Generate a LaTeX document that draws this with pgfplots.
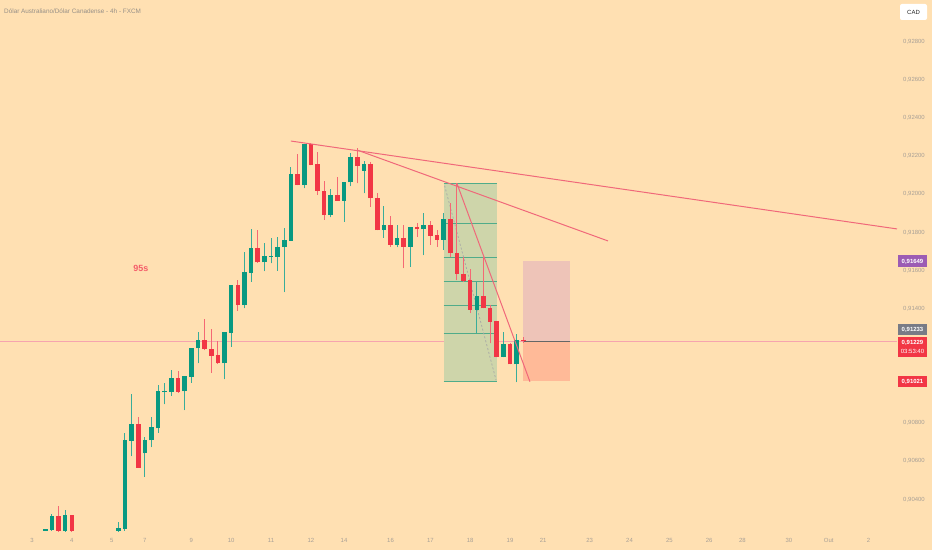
\documentclass[border=0pt]{standalone}
\usepackage{fontspec}
\setmainfont{Liberation Sans}
\usepackage{pgfplots}
\pgfplotsset{compat=1.18}
\usepackage{pgfplotstable}
\definecolor{bg}{RGB}{255,224,178}
\definecolor{tvgreen}{RGB}{8,153,129}
\definecolor{tvred}{RGB}{242,54,69}
\definecolor{lbl}{RGB}{168,160,150}
\definecolor{pinkline}{RGB}{240,104,122}
\definecolor{boxgreen}{RGB}{206,213,170}
\definecolor{fibline}{RGB}{80,172,138}
\definecolor{tgtpink}{RGB}{238,196,184}
\definecolor{slsalmon}{RGB}{255,186,152}
\definecolor{purp}{RGB}{156,92,180}
\definecolor{grayb}{RGB}{120,123,134}

\pgfplotstableread{
i o h l c
0 0.90235 0.90241 0.90234 0.90240
1 0.90239 0.90321 0.90234 0.90309
3 0.90235 0.90342 0.90230 0.90316
11 0.90235 0.90281 0.90230 0.90249
12 0.90246 0.90748 0.90235 0.90707
13 0.90707 0.90952 0.90627 0.90795
15 0.90641 0.90728 0.90518 0.90711
16 0.90709 0.90830 0.90673 0.90775
17 0.90772 0.90999 0.90749 0.90964
18 0.90962 0.91008 0.90898 0.90966
19 0.90963 0.91078 0.90943 0.91036
21 0.90966 0.91044 0.90868 0.91043
22 0.91043 0.91193 0.91012 0.91192
23 0.91192 0.91276 0.91113 0.91232
27 0.91113 0.91277 0.91029 0.91276
28 0.91274 0.91521 0.91200 0.91520
30 0.91419 0.91695 0.91402 0.91590
31 0.91589 0.91818 0.91541 0.91716
33 0.91643 0.91743 0.91597 0.91674
34 0.91672 0.91772 0.91638 0.91675
35 0.91672 0.91777 0.91598 0.91722
36 0.91722 0.91824 0.91486 0.91760
37 0.91757 0.92144 0.91756 0.92105
39 0.92048 0.92265 0.92031 0.92263
43 0.91891 0.92027 0.91879 0.91996
45 0.91966 0.92064 0.91856 0.92063
46 0.92062 0.92215 0.92043 0.92194
48 0.92122 0.92176 0.92005 0.92159
51 0.91812 0.91938 0.91772 0.91839
53 0.91734 0.91839 0.91722 0.91769
55 0.91725 0.91825 0.91620 0.91824
57 0.91816 0.91903 0.91681 0.91835
60 0.91760 0.91902 0.91708 0.91869
65 0.91393 0.91541 0.91271 0.91466
69 0.91148 0.91276 0.91145 0.91213
71 0.91108 0.91265 0.91015 0.91233
}\greenc

\pgfplotstableread{
i o h l c
2 0.90309 0.90365 0.90230 0.90235
4 0.90316 0.90320 0.90228 0.90233
14 0.90795 0.90830 0.90566 0.90566
20 0.91036 0.91074 0.90959 0.90964
24 0.91234 0.91346 0.91183 0.91188
25 0.91188 0.91293 0.91064 0.91152
26 0.91153 0.91232 0.91110 0.91113
29 0.91520 0.91550 0.91388 0.91419
32 0.91716 0.91814 0.91641 0.91643
38 0.92105 0.92211 0.92048 0.92048
40 0.92263 0.92267 0.92152 0.92153
41 0.92157 0.92220 0.91996 0.92017
42 0.92017 0.92069 0.91865 0.91891
44 0.91996 0.92089 0.91966 0.91966
47 0.92194 0.92241 0.92057 0.92148
49 0.92159 0.92168 0.91935 0.91979
50 0.91979 0.92005 0.91812 0.91812
52 0.91839 0.91887 0.91725 0.91734
54 0.91769 0.91839 0.91612 0.91725
56 0.91824 0.91848 0.91777 0.91816
58 0.91835 0.91861 0.91734 0.91783
59 0.91784 0.91812 0.91725 0.91760
61 0.91869 0.91956 0.91669 0.91690
62 0.91690 0.92057 0.91550 0.91582
63 0.91582 0.91669 0.91541 0.91546
64 0.91550 0.91606 0.91376 0.91393
66 0.91466 0.91669 0.91402 0.91402
67 0.91402 0.91419 0.91218 0.91331
68 0.91331 0.91337 0.91145 0.91148
70 0.91213 0.91218 0.91108 0.91108
72 0.91233 0.91250 0.91220 0.91229
}\redc

\begin{document}
\begin{tikzpicture}[x=1bp,y=1bp]
\fill[bg] (0bp,0bp) rectangle (932bp,550bp);
\useasboundingbox (0bp,0bp) rectangle (932bp,550bp);
\begin{axis}[
  at={(0bp,18bp)}, anchor=south west,
  scale only axis, width=897bp, height=532bp,
  xmin=-6.82, xmax=128.29, ymin=0.902285, ymax=0.930187,
  clip mode=individual,
  axis line style={draw=none}, tick style={draw=none},
  major tick length=0pt,
  xtick={-2,4,10,15,22,28,34,40,45,52,58,64,70,75,82,88,94,100,105,112,118,124},
  xticklabels={3,4,5,7,9,10,11,12,14,16,17,18,19,21,23,24,25,26,28,30,Out,2},
  ytick={0.904,0.906,0.908,0.914,0.916,0.918,0.920,0.922,0.924,0.926,0.928},
  yticklabels={{0,90400},{0,90600},{0,90800},{0,91400},{0,91600},{0,91800},{0,92000},{0,92200},{0,92400},{0,92600},{0,92800}},
  yticklabel pos=right,
  ticklabel style={font=\fontsize{6}{7}\selectfont, text=lbl},
  xticklabel style={anchor=center, yshift=-8bp},
  yticklabel style={anchor=center, xshift=17bp},
  candle/.style={only marks, mark=*, mark size=0pt, mark options={draw=none, fill=none}, forget plot},
]
% current price line
\addplot[pinkline!60, line width=0.5bp, forget plot] coordinates {(-6.82,0.91229) (128.29,0.91229)};
% green box (fib)
\addplot[fill=boxgreen, draw=none, forget plot] coordinates {(60,0.92057) (68,0.92057) (68,0.91019) (60,0.91019)} -- cycle;
\foreach \lv in {0.92057,0.91844,0.91669,0.91541,0.91415,0.91267,0.91019} {
  \addplot[fibline, line width=1bp, forget plot] coordinates {(60,\lv) (68,\lv)};
}
\addplot[gray!70, dash pattern=on 2bp off 2bp, line width=0.7bp, forget plot] coordinates {(60.15,0.92045) (67.9,0.91025)};
% target / stop boxes
\addplot[fill=tgtpink, draw=none, forget plot] coordinates {(71.9,0.91649) (79,0.91649) (79,0.91229) (71.9,0.91229)} -- cycle;
\addplot[fill=slsalmon, draw=none, forget plot] coordinates {(71.9,0.91229) (79,0.91229) (79,0.91021) (71.9,0.91021)} -- cycle;
\addplot[gray!80!black, line width=0.6bp, forget plot] coordinates {(71.9,0.91229) (79,0.91229)};
% candles: wicks
\addplot[candle, tvgreen, error bars/.cd, y dir=plus, y explicit, error mark=none,
  error bar style={line width=0.9bp, tvgreen!80}]
  table[x=i, y=l, y error expr=\thisrow{h}-\thisrow{l}] {\greenc};
\addplot[candle, tvred, error bars/.cd, y dir=plus, y explicit, error mark=none,
  error bar style={line width=0.9bp, tvred!75}]
  table[x=i, y=l, y error expr=\thisrow{h}-\thisrow{l}] {\redc};
% candles: bodies
\addplot[candle, tvgreen, error bars/.cd, y dir=plus, y explicit, error mark=none,
  error bar style={line width=4.6bp, tvgreen}]
  table[x=i, y=o, y error expr=\thisrow{c}-\thisrow{o}+0.00002] {\greenc};
\addplot[candle, tvred, error bars/.cd, y dir=plus, y explicit, error mark=none,
  error bar style={line width=4.6bp, tvred}]
  table[x=i, y=c, y error expr=\thisrow{o}-\thisrow{c}+0.00002] {\redc};
% trend lines
\addplot[pinkline, line width=1bp, forget plot] coordinates {(37.0,0.92279) (128.29,0.91818)};
\addplot[pinkline, line width=1bp, forget plot] coordinates {(46.95,0.92232) (84.76,0.91755)};
\addplot[pinkline, line width=1bp, forget plot] coordinates {(62,0.92057) (73,0.91017)};
\node[font=\fontsize{9}{10}\selectfont\bfseries, text=tvred!80] at (axis cs:14.4,0.91613) {95s};
\end{axis}
\node[anchor=west, inner sep=0pt, font=\fontsize{6.4}{7}\selectfont, text=lbl!90!black] at (4bp,539bp) {Dólar Australiano/Dólar Canadense - 4h - FXCM};
\node[fill=white, rounded corners=2bp, minimum width=27bp, minimum height=16bp, inner sep=0pt, font=\fontsize{6}{7}\selectfont, text=black!85] at (913.5bp,538bp) {CAD};
\node[fill=purp, minimum width=29bp, minimum height=12bp, inner sep=0pt, font=\fontsize{6}{7}\selectfont\bfseries, text=white] at (912.5bp,288.5bp) {0,91649};
\node[fill=grayb, minimum width=29bp, minimum height=11bp, inner sep=0pt, font=\fontsize{6}{7}\selectfont\bfseries, text=white] at (912.5bp,220bp) {0,91233};
\node[fill=tvred, minimum width=29bp, minimum height=20.5bp, inner sep=0pt, align=center, font=\fontsize{6}{8.5}\selectfont, text=white] at (912.5bp,203bp) {\textbf{0,91229}\\03:53:40};
\node[fill=tvred, minimum width=29bp, minimum height=11bp, inner sep=0pt, font=\fontsize{6}{7}\selectfont\bfseries, text=white] at (912.5bp,168.5bp) {0,91021};
\end{tikzpicture}
\end{document}
